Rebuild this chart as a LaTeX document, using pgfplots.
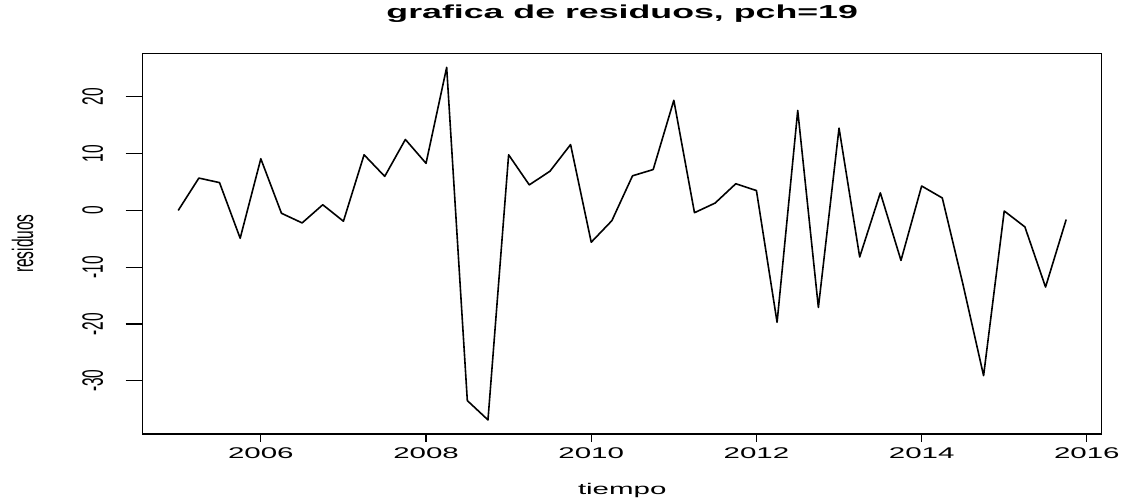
\documentclass[border=0pt]{standalone}
\usepackage{fontspec}
\setmainfont{Liberation Sans}[FakeStretch=1.9]
\newfontfamily\plainsf{Liberation Sans}
\usepackage{graphicx}
\usepackage{pgfplots}
\pgfplotsset{compat=1.18}

\pgfplotstableread{
t       r
2005.00   0.0
2005.25   5.7
2005.50   4.9
2005.75  -4.9
2006.00   9.1
2006.25  -0.5
2006.50  -2.2
2006.75   1.0
2007.00  -1.9
2007.25   9.8
2007.50   6.0
2007.75  12.5
2008.00   8.3
2008.25  25.2
2008.50 -33.5
2008.75 -36.9
2009.00   9.8
2009.25   4.5
2009.50   6.9
2009.75  11.6
2010.00  -5.6
2010.25  -1.8
2010.50   6.1
2010.75   7.2
2011.00  19.4
2011.25  -0.4
2011.50   1.3
2011.75   4.7
2012.00   3.5
2012.25 -19.7
2012.50  17.6
2012.75 -17.1
2013.00  14.5
2013.25  -8.2
2013.50   3.1
2013.75  -8.8
2014.00   4.3
2014.25   2.2
2014.50 -13.0
2014.75 -29.1
2015.00  -0.1
2015.25  -2.9
2015.50 -13.5
2015.75  -1.6
}\residuos

\begin{document}
\begin{tikzpicture}
\useasboundingbox (0,0) rectangle (1124pt,502pt);
\begin{axis}[
    at={(142.7pt,68pt)}, anchor=south west,
    scale only axis, width=959pt, height=380.7pt,
    xmin=2004.57, xmax=2016.18,
    ymin=-39.38, ymax=27.68,
    xtick={2006,2008,...,2016},
    ytick={-30,-20,...,20},
    tick align=outside,
    xtick pos=left, ytick pos=left,
    axis line style={line width=1.3pt},
    xtick style={line width=1.2pt, black, /pgfplots/major tick length=8pt},
    ytick style={line width=1.2pt, black, /pgfplots/major tick length=17pt},
    /pgf/number format/1000 sep={},
    /pgf/number format/assume math mode=true,
    xticklabel style={font=\fontsize{15.5}{15.5}\selectfont, anchor=base, inner sep=0pt, yshift=-20pt},
    yticklabel={\scalebox{1}[1.9]{\plainsf\fontsize{15.5}{15.5}\selectfont\pgfmathprintnumber{\tick}}},
    yticklabel style={xshift=-35pt, rotate=90, anchor=south, inner sep=0pt},
    title={grafica de residuos, pch=19},
    title style={font=\bfseries\fontsize{18.8}{18.8}\selectfont, at={(0.5,1)}, anchor=base, yshift=29pt},
    clip=false,
]
\addplot[black, line width=1.6pt, line join=round] table[x=t, y=r] {\residuos};
\node[font=\fontsize{15.5}{15.5}\selectfont, anchor=center, yshift=-56pt] at (rel axis cs:0.5,0) {tiempo};
\node[anchor=center, xshift=-120pt, rotate=90] at (rel axis cs:0,0.5) {\scalebox{1}[1.9]{\plainsf\fontsize{15.5}{15.5}\selectfont residuos}};
\end{axis}
\end{tikzpicture}
\end{document}
